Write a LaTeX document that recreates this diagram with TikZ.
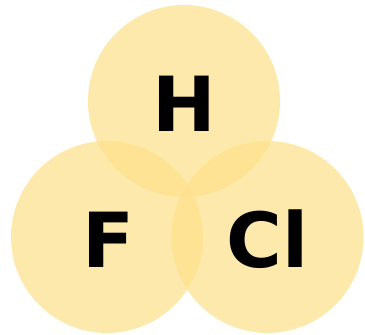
\documentclass[tikz,border=0pt]{standalone}
\usepackage{fontspec}
\setmainfont{DejaVu Sans}
\definecolor{circfill}{RGB}{254,225,141}
\begin{document}
\begin{tikzpicture}[x=1pt,y=1pt,
  atom/.style={circle,minimum size=192pt,inner sep=0pt,fill=circfill,fill opacity=0.73,draw=none},
  lbl/.style={anchor=base,font=\fontsize{76}{80}\selectfont\bfseries,text=black,inner sep=0pt}]
\useasboundingbox (0,0) rectangle (365,335);
\node[atom] (h) at (184,234) {};
\node[atom] (f) at (107,98) {};
\node[atom] (cl) at (267.5,98) {};
\node[lbl] (hl) at (184,203) {H};
\node[lbl] (fl) at (108.5,67) {F};
\node[lbl] (cll) at (267.5,67) {Cl};
\end{tikzpicture}
\end{document}
